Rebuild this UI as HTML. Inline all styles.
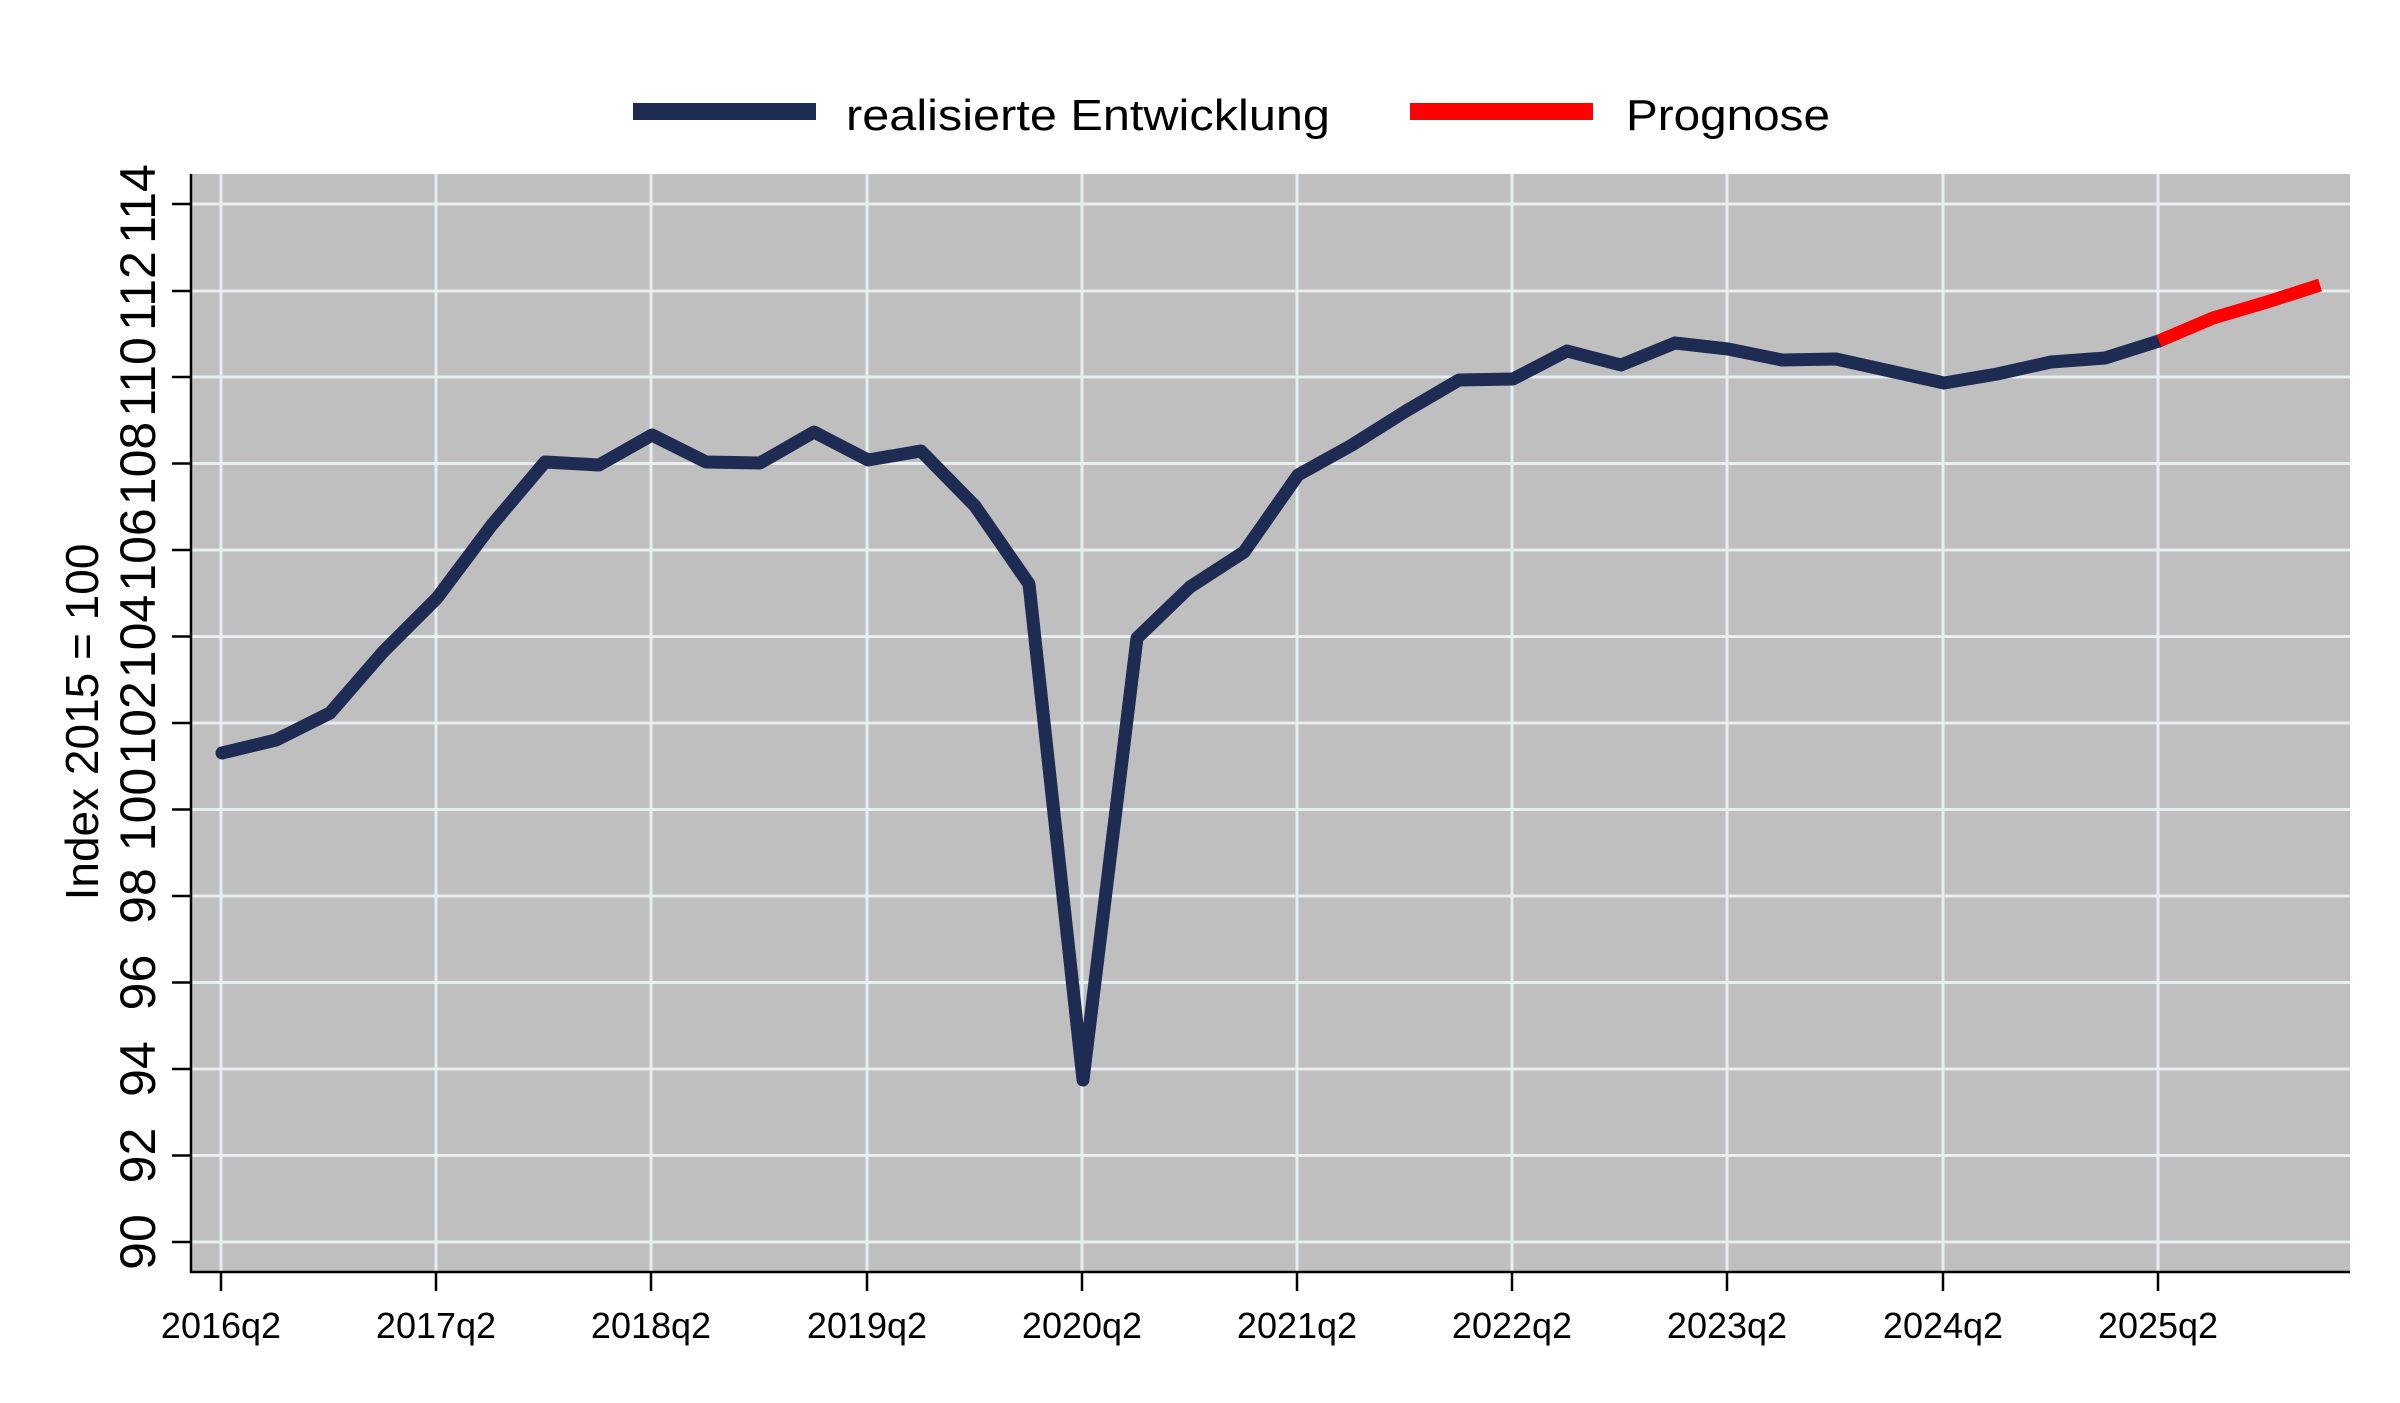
<!DOCTYPE html>
<html><head><meta charset="utf-8"><style>html,body{margin:0;padding:0;background:#fff}svg{display:block}</style></head>
<body>
<svg width="2400" height="1403" viewBox="0 0 2400 1403" xmlns="http://www.w3.org/2000/svg" font-family="Liberation Sans, Arial, sans-serif">
<rect x="0" y="0" width="2400" height="1403" fill="#fff"/>
<rect x="191" y="174" width="2159" height="1098" fill="#bfbfbf"/>
<g stroke="#e6eef0" stroke-width="3">
<line x1="191" x2="2350" y1="204" y2="204"/><line x1="191" x2="2350" y1="291" y2="291"/><line x1="191" x2="2350" y1="377" y2="377"/><line x1="191" x2="2350" y1="463.5" y2="463.5"/><line x1="191" x2="2350" y1="550" y2="550"/><line x1="191" x2="2350" y1="636.5" y2="636.5"/><line x1="191" x2="2350" y1="723" y2="723"/><line x1="191" x2="2350" y1="809.5" y2="809.5"/><line x1="191" x2="2350" y1="896" y2="896"/><line x1="191" x2="2350" y1="982.5" y2="982.5"/><line x1="191" x2="2350" y1="1069" y2="1069"/><line x1="191" x2="2350" y1="1155.5" y2="1155.5"/><line x1="191" x2="2350" y1="1242" y2="1242"/>
<line y1="174" y2="1272" x1="221" x2="221"/><line y1="174" y2="1272" x1="436" x2="436"/><line y1="174" y2="1272" x1="651" x2="651"/><line y1="174" y2="1272" x1="867" x2="867"/><line y1="174" y2="1272" x1="1082" x2="1082"/><line y1="174" y2="1272" x1="1297" x2="1297"/><line y1="174" y2="1272" x1="1512" x2="1512"/><line y1="174" y2="1272" x1="1727" x2="1727"/><line y1="174" y2="1272" x1="1943" x2="1943"/><line y1="174" y2="1272" x1="2158" x2="2158"/>
</g>
<g stroke="#000" stroke-width="2.5">
<line x1="191" x2="191" y1="174" y2="1273"/><line x1="190" x2="2350" y1="1272" y2="1272"/>
<line x1="172" x2="191" y1="204" y2="204"/><line x1="172" x2="191" y1="291" y2="291"/><line x1="172" x2="191" y1="377" y2="377"/><line x1="172" x2="191" y1="463.5" y2="463.5"/><line x1="172" x2="191" y1="550" y2="550"/><line x1="172" x2="191" y1="636.5" y2="636.5"/><line x1="172" x2="191" y1="723" y2="723"/><line x1="172" x2="191" y1="809.5" y2="809.5"/><line x1="172" x2="191" y1="896" y2="896"/><line x1="172" x2="191" y1="982.5" y2="982.5"/><line x1="172" x2="191" y1="1069" y2="1069"/><line x1="172" x2="191" y1="1155.5" y2="1155.5"/><line x1="172" x2="191" y1="1242" y2="1242"/>
<line y1="1272" y2="1291" x1="221" x2="221"/><line y1="1272" y2="1291" x1="436" x2="436"/><line y1="1272" y2="1291" x1="651" x2="651"/><line y1="1272" y2="1291" x1="867" x2="867"/><line y1="1272" y2="1291" x1="1082" x2="1082"/><line y1="1272" y2="1291" x1="1297" x2="1297"/><line y1="1272" y2="1291" x1="1512" x2="1512"/><line y1="1272" y2="1291" x1="1727" x2="1727"/><line y1="1272" y2="1291" x1="1943" x2="1943"/><line y1="1272" y2="1291" x1="2158" x2="2158"/>
</g>
<g font-size="50" fill="#000" text-anchor="middle">
<text transform="translate(155,204) rotate(-90)">114</text>
<text transform="translate(155,291) rotate(-90)">112</text>
<text transform="translate(155,377) rotate(-90)">110</text>
<text transform="translate(155,463.5) rotate(-90)">108</text>
<text transform="translate(155,550) rotate(-90)">106</text>
<text transform="translate(155,636.5) rotate(-90)">104</text>
<text transform="translate(155,723) rotate(-90)">102</text>
<text transform="translate(155,809.5) rotate(-90)">100</text>
<text transform="translate(155,896) rotate(-90)">98</text>
<text transform="translate(155,982.5) rotate(-90)">96</text>
<text transform="translate(155,1069) rotate(-90)">94</text>
<text transform="translate(155,1155.5) rotate(-90)">92</text>
<text transform="translate(155,1242) rotate(-90)">90</text>
<text transform="translate(98,722) rotate(-90)" font-size="46">Index 2015 = 100</text>
</g>
<g font-size="36" fill="#000" text-anchor="middle">
<text x="221" y="1338">2016q2</text><text x="436" y="1338">2017q2</text><text x="651" y="1338">2018q2</text><text x="867" y="1338">2019q2</text><text x="1082" y="1338">2020q2</text><text x="1297" y="1338">2021q2</text><text x="1512" y="1338">2022q2</text><text x="1727" y="1338">2023q2</text><text x="1943" y="1338">2024q2</text><text x="2158" y="1338">2025q2</text>
</g>
<polyline fill="none" stroke="#1e2b52" stroke-width="13" stroke-linejoin="round" stroke-linecap="round" points="222,753 276,740 330,713 383,652 437,598 491,526 545,462 599,465 652,435 706,462 760,463 814,432 868,460 921,451 975,506 1029,584 1083,1080 1137,638 1190,587 1244,552 1298,475 1352,445 1406,411 1459,380 1513,379 1567,351 1621,365 1675,343 1728,349 1782,360 1836,359 1890,371 1944,383 1997,374 2051,362 2105,358 2159,341"/>
<polyline fill="none" stroke="#ff0000" stroke-width="13" stroke-linejoin="round" points="2159,341 2213,318 2267,302 2320,285"/>
<rect x="633" y="103" width="183" height="17" fill="#1e2b52"/>
<text x="846" y="130" font-size="44" textLength="484" lengthAdjust="spacingAndGlyphs">realisierte Entwicklung</text>
<rect x="1410" y="103" width="183" height="17" fill="#ff0000"/>
<text x="1626" y="130" font-size="44" textLength="204" lengthAdjust="spacingAndGlyphs">Prognose</text>
</svg>
</body></html>
